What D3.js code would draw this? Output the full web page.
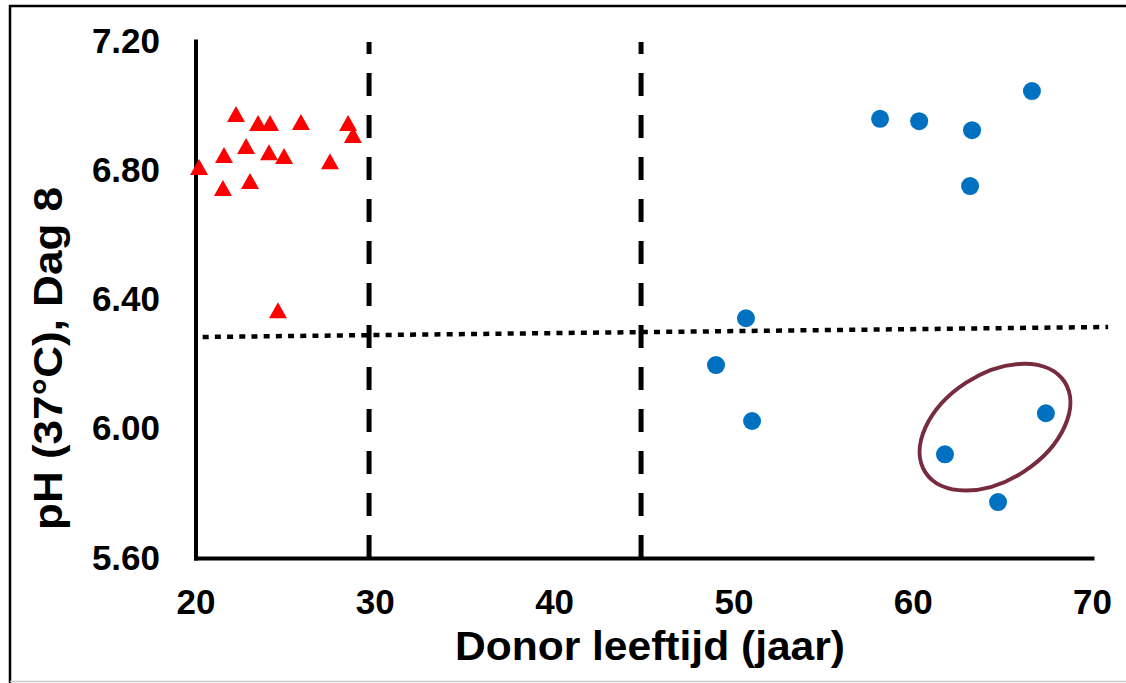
<!DOCTYPE html>
<html>
<head>
<meta charset="utf-8">
<script src="https://cdn.jsdelivr.net/npm/d3@7"></script>
<style>
  html, body { margin: 0; padding: 0; background: #fff; }
  svg { display: block; font-family: "Liberation Sans", Arial, sans-serif; }
</style>
</head>
<body>
<svg id="chart" width="1126" height="683"></svg>
<script>
// ---- Data ----
const youngAge = [20.20, 22.26, 23.49, 24.16, 25.88, 28.51, 28.78, 21.59, 22.82, 24.10, 24.94, 27.50, 21.53, 23.04, 24.60];
const youngPH  = [6.810, 6.974, 6.946, 6.946, 6.949, 6.946, 6.909, 6.847, 6.875, 6.856, 6.844, 6.828, 6.745, 6.767, 6.367];

const oldAge = [50.70, 49.03, 51.04, 61.80, 67.43, 64.76, 58.18, 60.36, 63.31, 63.20, 66.65];
const oldPH  = [6.342, 6.197, 6.024, 5.921, 6.048, 5.773, 6.959, 6.952, 6.924, 6.751, 7.045];

const xTicks = [20, 30, 40, 50, 60, 70];
const yTicks = [5.60, 6.00, 6.40, 6.80, 7.20];

const ageCutoffs = [29.68, 44.85];          // vertical dashed lines
const thresholdX = [20.4, 70.9];            // dotted reference line
const thresholdY = [6.284, 6.315];
const highlightCenter = [64.59, 6.005];     // ellipse around highlighted donors

const xTitle = "Donor leeftijd (jaar)";
const yTitle = "pH (37°C), Dag 8";

// ---- Drawing ----
const svg = d3.select("#chart");
const x = d3.scaleLinear().domain([20, 70]).range([195.5, 1092]);
const y = d3.scaleLinear().domain([5.6, 7.2]).range([558, 41]);

// outer frame
svg.append("line").attr("x1", 9).attr("x2", 1126).attr("y1", 6).attr("y2", 6)
  .attr("stroke", "#000").attr("stroke-width", 2.5);
svg.append("line").attr("x1", 10).attr("x2", 10).attr("y1", 5).attr("y2", 683)
  .attr("stroke", "#000").attr("stroke-width", 2.5);
svg.append("line").attr("x1", 10).attr("x2", 1126).attr("y1", 681.5).attr("y2", 681.5)
  .attr("stroke", "#c8c8c8").attr("stroke-width", 1.5);

// vertical dashed age cut-offs (dash pattern starting from axis upward)
ageCutoffs.forEach(a => {
  svg.append("line")
    .attr("x1", x(a)).attr("x2", x(a))
    .attr("y1", y(5.6)).attr("y2", y(7.2) + 1)
    .attr("stroke", "#000").attr("stroke-width", 5)
    .attr("stroke-dasharray", "23,19");
});

// dotted threshold line
svg.append("line")
  .attr("x1", x(thresholdX[0])).attr("y1", y(thresholdY[0]))
  .attr("x2", x(thresholdX[1])).attr("y2", y(thresholdY[1]))
  .attr("stroke", "#000").attr("stroke-width", 4.5)
  .attr("stroke-dasharray", "6,6.2");

// axes
const yAxis = d3.axisLeft(y).tickValues(yTicks).tickFormat(d3.format(".2f"))
  .tickSize(0).tickSizeOuter(0).tickPadding(35.5);
const xAxis = d3.axisBottom(x).tickValues(xTicks).tickFormat(d3.format("d"))
  .tickSize(0).tickSizeOuter(0).tickPadding(31);

const gy = svg.append("g").attr("transform", `translate(${x(20)},0)`).call(yAxis);
const gx = svg.append("g").attr("transform", `translate(0,${y(5.6)})`).call(xAxis);
[gx, gy].forEach(g => {
  g.select(".domain").attr("stroke", "#000").attr("stroke-width", 4).attr("stroke-linecap", "square");
  g.selectAll("text").attr("fill", "#000")
    .style("font-family", "'Liberation Sans', Arial, sans-serif")
    .style("font-size", "35px").style("font-weight", "bold");
});

// young donors: red triangles
const triW = 18, triH = 16;
const triPath = `M0,${-triH/2}L${triW/2},${triH/2}L${-triW/2},${triH/2}Z`;
svg.append("g").selectAll("path")
  .data(youngAge.map((a, i) => [a, youngPH[i]]))
  .join("path")
  .attr("d", triPath)
  .attr("transform", d => `translate(${x(d[0])},${y(d[1])})`)
  .attr("fill", "#ff0000");

// older donors: blue circles
svg.append("g").selectAll("circle")
  .data(oldAge.map((a, i) => [a, oldPH[i]]))
  .join("circle")
  .attr("cx", d => x(d[0])).attr("cy", d => y(d[1]))
  .attr("r", 9).attr("fill", "#0070c0");

// highlight ellipse
svg.append("ellipse")
  .attr("cx", 0).attr("cy", 0).attr("rx", 83).attr("ry", 53)
  .attr("transform", `translate(${x(highlightCenter[0])},${y(highlightCenter[1])}) rotate(-33)`)
  .attr("fill", "none").attr("stroke", "#772b3e").attr("stroke-width", 4);

// axis titles
svg.append("text")
  .attr("x", 650).attr("y", 660)
  .attr("text-anchor", "middle")
  .attr("textLength", 390).attr("lengthAdjust", "spacingAndGlyphs")
  .style("font-size", "40px").style("font-weight", "bold")
  .text(xTitle);

svg.append("text")
  .attr("transform", "translate(62,358.5) rotate(-90)")
  .attr("text-anchor", "middle")
  .attr("textLength", 343).attr("lengthAdjust", "spacingAndGlyphs")
  .style("font-size", "40px").style("font-weight", "bold")
  .text(yTitle);
</script>
</body>
</html>
